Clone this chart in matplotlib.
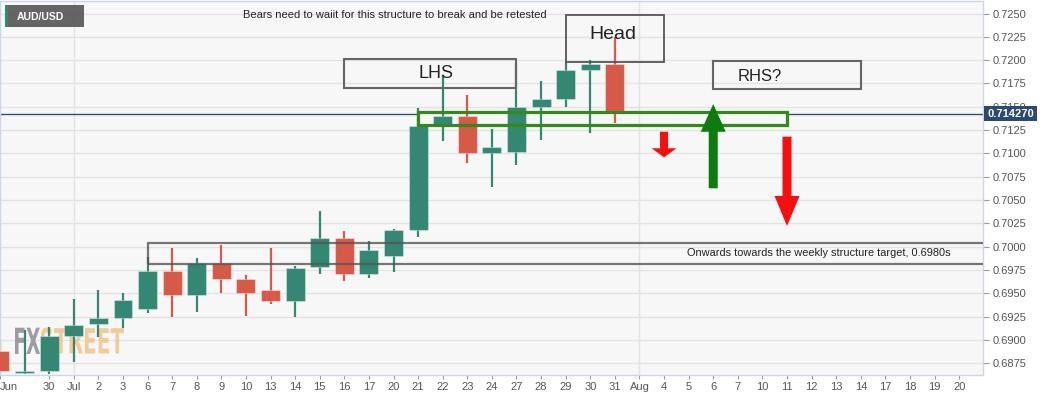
import matplotlib
matplotlib.use("Agg")
import matplotlib.pyplot as plt
import numpy as np
from matplotlib.patches import Rectangle, FancyArrowPatch, PathPatch
from matplotlib.textpath import TextPath
from matplotlib.font_manager import FontProperties, fontManager
from matplotlib.transforms import Affine2D

plt.rcParams['font.family'] = ['Liberation Sans', 'DejaVu Sans']
names = {f.name for f in fontManager.ttflist}
NARROW = 'Liberation Sans Narrow' if 'Liberation Sans Narrow' in names else 'Liberation Sans'

# daily candles, index 0 = Jun 29
candle_idx = list(range(-1, 25))
opens  = [0.6888, 0.6865, 0.6867, 0.6904, 0.6917, 0.6924, 0.6933, 0.6974, 0.6948, 0.6983,
          0.6965, 0.6954, 0.6942, 0.6978, 0.7009, 0.6971, 0.6990, 0.7018, 0.7130, 0.7140,
          0.7100, 0.7102, 0.7150, 0.7158, 0.7189, 0.7196]
highs  = [0.6898, 0.6911, 0.6914, 0.6944, 0.6954, 0.6950, 0.6989, 0.6999, 0.6988, 0.7002,
          0.6970, 0.6999, 0.6979, 0.7038, 0.7017, 0.7006, 0.7019, 0.7149, 0.7184, 0.7163,
          0.7126, 0.7197, 0.7178, 0.7198, 0.7200, 0.7225]
lows   = [0.6866, 0.6864, 0.6864, 0.6877, 0.6903, 0.6913, 0.6929, 0.6925, 0.6930, 0.6951,
          0.6926, 0.6939, 0.6925, 0.6971, 0.6963, 0.6967, 0.6973, 0.7011, 0.7113, 0.7090,
          0.7064, 0.7088, 0.7114, 0.7150, 0.7122, 0.7133]
closes = [0.6867, 0.6867, 0.6904, 0.6916, 0.6924, 0.6943, 0.6974, 0.6948, 0.6983, 0.6965,
          0.6950, 0.6942, 0.6977, 0.7009, 0.6971, 0.6997, 0.7018, 0.7129, 0.7140, 0.7100,
          0.7107, 0.7150, 0.7158, 0.7189, 0.7196, 0.7145]

day_pos = [-1] + list(range(1, 39))
day_labels = ["Jun", "30", "Jul", "2", "3", "6", "7", "8", "9", "10", "13", "14", "15", "16",
              "17", "20", "21", "22", "23", "24", "27", "28", "29", "30", "31", "Aug", "4", "5",
              "6", "7", "10", "11", "12", "13", "14", "17", "18", "19", "20"]
month_starts = [2, 25]

price_ticks = np.arange(0.6875, 0.72501, 0.0025)
current_price = 0.714270

GREEN = '#338773'
RED = '#d55a48'

fig = plt.figure(figsize=(10.53, 3.99), dpi=100, facecolor='white')
ax = fig.add_axes([0.0, 24 / 399, 983 / 1053, 374 / 399])
ax.set_facecolor('#f7f7f7')
ax.set_xlim(-0.992, 38.968)
ax.set_ylim(0.68626, 0.72634)

# grid
for p in price_ticks:
    ax.axhline(p, color='#e3e3e3', lw=1, zorder=0.5)
for m in month_starts:
    ax.axvline(m, color='#e3e3e3', lw=1, zorder=0.5)

# watermark
def wm(text, x0, x1, ytop, ybot, color):
    tp = TextPath((0, 0), text, size=10, prop=FontProperties(family='DejaVu Sans', weight='bold'))
    ext = tp.get_extents()
    sx = (x1 - x0) / ext.width
    sy = (ybot - ytop) / ext.height
    tr = Affine2D().translate(-ext.x0, -ext.y0).scale(sx, sy).translate(x0, 399 - ybot)
    ax.add_patch(PathPatch(tp, transform=tr, fc=color, ec='none', alpha=0.85, zorder=1))

wm("FX", 15, 40, 327.7, 354, '#8c8c94')
wm("STREET", 41, 124, 327.7, 354, '#f0c48a')

# current price line, hidden behind the structure box
ax.plot([-0.992, 16], [current_price, current_price], color='#2c4f7c', lw=1, zorder=1.5)
ax.plot([31, 38.968], [current_price, current_price], color='#2c4f7c', lw=1, zorder=1.5)

# candles
o = np.array(opens); c = np.array(closes)
cols = [GREEN if cc >= oo else RED for oo, cc in zip(o, c)]
ax.vlines(candle_idx, lows, highs, colors=cols, lw=1.6, zorder=2)
ax.bar(candle_idx, np.abs(c - o), bottom=np.minimum(o, c), width=0.77, color=cols,
       edgecolor=(1, 1, 1, 0.35), linewidth=0.8, zorder=3)

# annotation boxes
ax.add_patch(Rectangle((16, 0.71305), 15, 0.00136, fc='none', ec='#338a1a', lw=2.3, zorder=5))
ax.add_patch(Rectangle((5, 0.69816), 40, 0.00228, fc='none', ec='#555555', alpha=0.8, lw=1.6, zorder=5))
ax.add_patch(Rectangle((13, 0.71705), 7, 0.00304, fc='none', ec='#666666', lw=1.5, zorder=5))
ax.add_patch(Rectangle((22, 0.71980), 4, 0.00507, fc='none', ec='#555555', lw=1.3, zorder=5))
ax.add_patch(Rectangle((28, 0.71691), 6, 0.00300, fc='none', ec='#666666', lw=1.5, zorder=5))

ax.text(16.73, 0.71855, "LHS", ha='center', va='center', fontsize=13, color='#222222', zorder=6)
ax.text(23.93, 0.72275, "Head", ha='center', va='center', fontsize=14, color='#222222', zorder=6)
ax.text(29.9, 0.71825, "RHS?", ha='center', va='center', fontsize=12, color='#222222', zorder=6)
ax.text(32.3, 0.69930, "Onwards towards the weekly structure target, 0.6980s", ha='center',
        va='center', fontsize=7.9, color='#222222', zorder=6)

# arrows
def arrow(x, y0, y1, color, shaft, head_w, head_l):
    ax.add_patch(FancyArrowPatch((x, y0), (x, y1),
                 arrowstyle=f"simple,head_length={head_l},head_width={head_w},tail_width={shaft}",
                 mutation_scale=1, color=color, lw=0, shrinkA=0, shrinkB=0, zorder=6))

arrow(26, 0.71233, 0.70959, '#f51010', 5.8, 18, 6.5)
arrow(28, 0.70627, 0.71530, '#0c7c0c', 6.5, 18, 20)
arrow(31, 0.71180, 0.70223, '#f51010', 6.5, 18, 21.6)

# axes styling
for s in ax.spines.values():
    s.set_color('#ccd5e6')
    s.set_linewidth(1)
ax.yaxis.tick_right()
ax.set_yticks(price_ticks)
ax.set_yticklabels([f"{p:.4f}" for p in price_ticks])
ax.set_xticks(day_pos)
ax.set_xticklabels(day_labels)
ax.get_xticklabels()[0].set_ha('left')
ax.tick_params(axis='y', colors='#999999', labelcolor='#555555', length=4, width=0.8,
               labelsize=8, pad=3)
ax.tick_params(axis='x', colors='#999999', labelcolor='#555555', length=3, width=0.8,
               labelsize=8, pad=2)

ax.annotate(f"{current_price:.6f}", xy=(1, current_price), xycoords=('axes fraction', 'data'),
            xytext=(3, 0), textcoords='offset points', ha='left', va='center', color='white',
            fontsize=8, fontweight='bold', annotation_clip=False, zorder=10,
            bbox=dict(boxstyle='square,pad=0.25', fc='#2b4a70', ec='none'))

# title and symbol tag
fig.text(395 / 1053, 1 - 15.5 / 399, "Bears need to waiit for this structure to break and be retested",
         ha='center', va='center', fontsize=8, color='#222222', family=[NARROW, 'DejaVu Sans'])
fig.add_artist(Rectangle((5 / 1053, 1 - 27 / 399), 79 / 1053, 22 / 399, transform=fig.transFigure,
                         fc='#555555', alpha=0.9, ec='none'))
fig.add_artist(Rectangle((5 / 1053, 1 - 27 / 399), 2.5 / 1053, 22 / 399, transform=fig.transFigure,
                         fc=GREEN, ec='none'))
fig.text(17 / 1053, 1 - 16.5 / 399, "AUD/USD", ha='left', va='center', fontsize=7.5,
         fontweight='bold', color='white')

fig.savefig("out.png", dpi=100)
